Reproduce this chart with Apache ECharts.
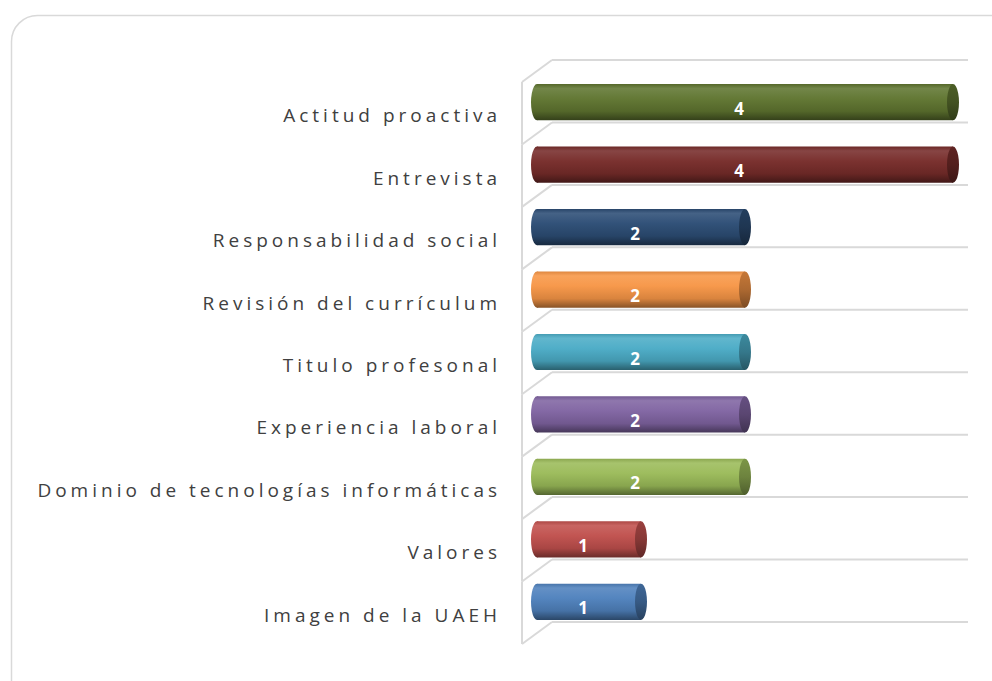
<!DOCTYPE html>
<html>
<head>
<meta charset="utf-8">
<script src="https://cdn.jsdelivr.net/npm/echarts@6/dist/echarts.min.js"></script>
<style>
    html, body { margin: 0; padding: 0; background: #fff; }
    #chart { width: 992px; height: 681px; }
    /* espaciado entre letras como en el original */
    #chart svg text { letter-spacing: 4px; }
</style>
</head>
<body>
<div id="chart"></div>
<script>
    // datos de la gráfica (de arriba hacia abajo)
    var categories = ['Actitud proactiva', 'Entrevista', 'Responsabilidad social', 'Revisión del currículum',
        'Titulo profesonal', 'Experiencia laboral', 'Dominio de tecnologías informáticas', 'Valores', 'Imagen de la UAEH'];
    var values = [4, 4, 2, 2, 2, 2, 2, 1, 1];
    var barColors = ['#5f7530', '#772c2a', '#2c4d75', '#f79646', '#4bacc6', '#8064a2', '#9bbb59', '#c0504d', '#4f81bd'];

    // profundidad de la "caja" 3D
    var DX = 15, DY = 11;

    function mix(hex, target, t) {
        var c = parseInt(hex.slice(1), 16);
        var r = (c >> 16) & 255, g = (c >> 8) & 255, b = c & 255;
        r = Math.round(r + (target - r) * t);
        g = Math.round(g + (target - g) * t);
        b = Math.round(b + (target - b) * t);
        return 'rgb(' + r + ',' + g + ',' + b + ')';
    }

    function bodyGradient(color) {
        return new echarts.graphic.LinearGradient(0, 0, 0, 1, [
            { offset: 0, color: mix(color, 0, 0.1) },
            { offset: 0.12, color: mix(color, 255, 0.12) },
            { offset: 0.4, color: mix(color, 255, 0.03) },
            { offset: 0.75, color: mix(color, 0, 0.12) },
            { offset: 1, color: mix(color, 0, 0.45) }
        ]);
    }

    function capGradient(color) {
        return new echarts.graphic.LinearGradient(0, 0, 0, 1, [
            { offset: 0, color: mix(color, 0, 0.2) },
            { offset: 0.5, color: mix(color, 0, 0.3) },
            { offset: 1, color: mix(color, 0, 0.5) }
        ]);
    }

    var barData = values.map(function (v, i) { return [i, v]; });
    var wallData = categories.map(function (c, i) { return [i, 0]; });

    var chart = echarts.init(document.getElementById('chart'), null, { renderer: 'svg' });

    var option = {
        animation: false,
        graphic: [{
            type: 'rect',
            left: 9,
            top: 13,
            z: -10,
            shape: { width: 1010, height: 700, r: 26 },
            style: { fill: 'none', stroke: '#d9d9d9', lineWidth: 1.5 }
        }],
        grid: { left: 537, right: 39, top: 71, bottom: 48 },
        xAxis: {
            type: 'value',
            min: 0,
            max: 4,
            show: false
        },
        yAxis: {
            type: 'category',
            data: categories,
            inverse: true,
            axisLine: { show: false },
            axisTick: { show: false },
            splitLine: { show: false },
            axisLabel: {
                color: '#404040',
                fontSize: 19,
                fontFamily: 'Open Sans',
                margin: 36,
                verticalAlign: 'top',
                lineHeight: 26
            }
        },
        series: [
            {
                // paredes (líneas de cuadrícula en perspectiva)
                type: 'custom',
                silent: true,
                z: 1,
                data: wallData,
                renderItem: function (params, api) {
                    var i = api.value(0);
                    var c = api.coord([0, i]);
                    var end = api.coord([4, i]);
                    var h = api.size([0, 1])[1];
                    var x0 = c[0];
                    var st = { stroke: '#d9d9d9', lineWidth: 2 };
                    var children = [];
                    var tops = [c[1] - h / 2];
                    if (i === categories.length - 1) tops.push(c[1] + h / 2);
                    tops.forEach(function (y) {
                        children.push({ type: 'line', shape: { x1: x0 + DX, y1: y - DY, x2: end[0] + DX, y2: y - DY }, style: st });
                        children.push({ type: 'line', shape: { x1: x0 - DX, y1: y + DY, x2: x0 + DX, y2: y - DY }, style: st });
                    });
                    children.push({ type: 'line', shape: { x1: x0 - DX, y1: c[1] - h / 2 + DY, x2: x0 - DX, y2: c[1] + h / 2 + DY }, style: st });
                    return { type: 'group', children: children };
                }
            },
            {
                // barras cilíndricas
                type: 'custom',
                z: 2,
                data: barData,
                renderItem: function (params, api) {
                    var i = api.value(0);
                    var v = api.value(1);
                    var p0 = api.coord([0, i]);
                    var p1 = api.coord([v, i]);
                    var h = api.size([0, 1])[1] * 0.58;
                    var rx = 6;
                    var color = barColors[i];
                    return {
                        type: 'group',
                        children: [
                            {
                                type: 'circle',
                                x: p0[0], y: p0[1],
                                scaleX: rx / (h / 2),
                                shape: { cx: 0, cy: 0, r: h / 2 },
                                style: { fill: bodyGradient(color) }
                            },
                            {
                                type: 'rect',
                                shape: { x: p0[0], y: p0[1] - h / 2, width: p1[0] - p0[0], height: h },
                                style: { fill: bodyGradient(color) }
                            },
                            {
                                type: 'circle',
                                x: p1[0], y: p1[1],
                                scaleX: rx / (h / 2),
                                shape: { cx: 0, cy: 0, r: h / 2 },
                                style: { fill: capGradient(color) }
                            },
                            {
                                type: 'text',
                                style: {
                                    text: String(v),
                                    x: (p0[0] + p1[0]) / 2 - 4,
                                    y: p0[1] + 6,
                                    fill: '#ffffff',
                                    font: 'bold 17px "Open Sans"',
                                    align: 'center',
                                    verticalAlign: 'middle'
                                }
                            }
                        ]
                    };
                }
            }
        ]
    };

    chart.setOption(option);
</script>
</body>
</html>
